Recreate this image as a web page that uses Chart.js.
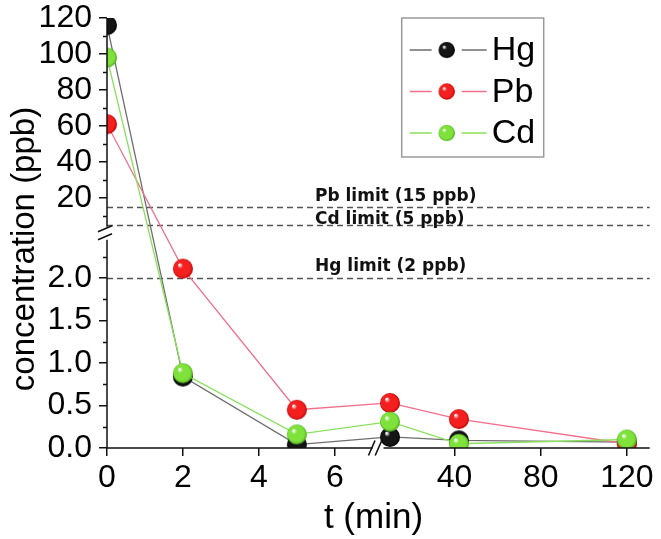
<!DOCTYPE html>
<html>
<head>
<meta charset="utf-8">
<script src="https://cdn.jsdelivr.net/npm/chart.js@4/dist/chart.umd.min.js"></script>
<style>
    html, body { margin: 0; padding: 0; background: #fff; }
</style>
</head>
<body>
<canvas id="chart" width="661" height="539"></canvas>
<script>

// =========================
// DATA
// =========================

const times = [0, 2, 5, 10, 42, 120];

const hgValues = [116, 0.84, 0.04, 0.13, 0.09, 0.07];
const pbValues = [61, 2.11, 0.45, 0.53, 0.34, 0.05];
const cdValues = [98, 0.88, 0.16, 0.31, 0.05, 0.10];

const seriesNames = ["Hg", "Pb", "Cd"];

const limitValues = [15, 5, 2];
const limitLabels = ["Pb limit (15 ppb)", "Cd limit (5 ppb)", "Hg limit (2 ppb)"];

const xTicks = [0, 2, 4, 6, 40, 80, 120];
const yTicks = [0, 0.5, 1, 1.5, 2, 20, 40, 60, 80, 100, 120];
const yMinorTicks = [0.25, 0.75, 1.25, 1.75, 2.25, 10, 30, 50, 70, 90, 110];

const yTitle = "concentration (ppb)";
const xTitle = "t (min)";

// =========================
// BROKEN AXES
// value -> fraction of axis length, two pieces each
// =========================

const breaks = {
    x: [[0, 0], [7, 0.4897], [7, 0.5095], [130.6, 1]],
    y: [[0, 0], [2.45, 0.4843], [4, 0.5144], [120, 1]]
};

function toDecimal(points, v) {
    for (let i = 1; i < points.length; i++) {
        const [v0, f0] = points[i - 1];
        const [v1, f1] = points[i];
        if (v <= v1 || i === points.length - 1) {
            if (v1 === v0) return f0;
            return f0 + (v - v0) / (v1 - v0) * (f1 - f0);
        }
    }
}

function fromDecimal(points, d) {
    for (let i = 1; i < points.length; i++) {
        const [v0, f0] = points[i - 1];
        const [v1, f1] = points[i];
        if (d <= f1 || i === points.length - 1) {
            if (f1 === f0) return v0;
            return v0 + (d - f0) / (f1 - f0) * (v1 - v0);
        }
    }
}

const LinearScale = Chart.registry.getScale("linear");

class BrokenScale extends LinearScale {
    buildTicks() {
        const list = this.axis === "x" ? xTicks : yTicks;
        return list.map(v => ({ value: v }));
    }
    getPixelForValue(value) {
        return this.getPixelForDecimal(toDecimal(breaks[this.axis], value));
    }
    getValueForPixel(pixel) {
        return fromDecimal(breaks[this.axis], this.getDecimalForPixel(pixel));
    }
}
BrokenScale.id = "broken";
BrokenScale.defaults = LinearScale.defaults;
Chart.register(BrokenScale);

// =========================
// SPHERE MARKERS
// =========================

function sphere(base, dark, r) {
    const size = Math.ceil(r * 2) + 2;
    const c = document.createElement("canvas");
    c.width = size;
    c.height = size;
    const g = c.getContext("2d");
    const m = size / 2;
    const grad = g.createRadialGradient(m - r * 0.35, m - r * 0.4, r * 0.05, m, m, r);
    grad.addColorStop(0, "#ffffff");
    grad.addColorStop(0.25, base);
    grad.addColorStop(0.8, base);
    grad.addColorStop(1, dark);
    g.fillStyle = grad;
    g.beginPath();
    g.arc(m, m, r, 0, Math.PI * 2);
    g.fill();
    return c;
}

const lineColors = ["#6e6e6e", "#f0708c", "#8ae05c"];
const markers = [
    sphere("#151515", "#000000", 10),
    sphere("#f42020", "#b80000", 10),
    sphere("#7ee23a", "#4aa81c", 10)
];

function points(values) {
    return times.map((t, i) => ({ x: t, y: values[i] }));
}

const seriesValues = [hgValues, pbValues, cdValues];

const datasets = seriesNames.map((name, i) => ({
    label: name,
    data: points(seriesValues[i]),
    borderColor: lineColors[i],
    borderWidth: 1.3,
    pointStyle: markers[i],
    pointRadius: 10,
    tension: 0,
    clip: 0,
    order: 3 - i
}));

// =========================
// EXTRA DRAWING
// =========================

const AXIS_FONT = "Liberation Sans, Arial, sans-serif";

const decorations = {
    id: "decorations",

    beforeDatasetsDraw(chart) {
        const { ctx, chartArea: a, scales: { y } } = chart;
        const labelLift = [6, 1.5, 7.5];

        ctx.save();
        ctx.strokeStyle = "#555";
        ctx.lineWidth = 1.3;
        ctx.setLineDash([6, 4]);
        limitValues.forEach(v => {
            const py = Math.round(y.getPixelForValue(v)) + 0.5;
            ctx.beginPath();
            ctx.moveTo(a.left, py);
            ctx.lineTo(a.right, py);
            ctx.stroke();
        });
        ctx.setLineDash([]);

        ctx.fillStyle = "#111";
        ctx.font = "bold 17px 'DejaVu Sans'";
        ctx.textBaseline = "alphabetic";
        ctx.textAlign = "left";
        limitValues.forEach((v, i) => {
            const py = y.getPixelForValue(v);
            ctx.fillText(limitLabels[i], a.left + 208, py - labelLift[i]);
        });
        ctx.restore();
    },

    // markers are cut off at the frame, as in the original
    beforeDatasetDraw(chart) {
        const { ctx, chartArea: a } = chart;
        ctx.save();
        ctx.beginPath();
        ctx.rect(a.left, a.top, a.right - a.left, a.bottom - a.top);
        ctx.clip();
    },

    afterDatasetDraw(chart) {
        chart.ctx.restore();
    },

    afterDraw(chart) {
        const { ctx, chartArea: a, scales: { x, y } } = chart;

        ctx.save();
        ctx.strokeStyle = "#111";
        ctx.lineWidth = 1.5;

        // axis lines in two pieces
        const yb = breaks.y;
        const xb = breaks.x;

        const yLowTop = y.getPixelForValue(yb[1][0]);
        const yUpBottom = y.getPixelForValue(yb[2][0] + 1e-9);
        const xLeftEnd = x.getPixelForValue(xb[1][0]);
        const xRightStart = x.getPixelForValue(xb[2][0] + 1e-9);

        ctx.beginPath();
        ctx.moveTo(a.left, a.bottom);
        ctx.lineTo(a.left, yLowTop);
        ctx.moveTo(a.left, yUpBottom);
        ctx.lineTo(a.left, a.top);

        ctx.moveTo(a.left, a.bottom);
        ctx.lineTo(xLeftEnd, a.bottom);
        ctx.moveTo(xRightStart, a.bottom);
        ctx.lineTo(a.right, a.bottom);
        ctx.stroke();

        // break marks
        ctx.lineWidth = 1.6;
        ctx.beginPath();
        [yUpBottom + 2, yLowTop - 3].forEach(cy => {
            ctx.moveTo(a.left - 9, cy + 3);
            ctx.lineTo(a.left + 5, cy - 3);
        });
        [xLeftEnd - 1, xRightStart - 5].forEach(cx => {
            ctx.moveTo(cx - 3.3, a.bottom + 7.5);
            ctx.lineTo(cx + 3.3, a.bottom - 7.5);
        });
        ctx.stroke();

        // minor ticks
        ctx.lineWidth = 1.5;
        ctx.beginPath();
        yMinorTicks.forEach(v => {
            const py = Math.round(y.getPixelForValue(v)) + 0.5;
            ctx.moveTo(a.left, py);
            ctx.lineTo(a.left - 4, py);
        });
        ctx.stroke();

        // y title, a little below the middle like the original
        ctx.fillStyle = "#000";
        ctx.font = "33px " + AXIS_FONT;
        ctx.textAlign = "center";
        ctx.textBaseline = "alphabetic";
        ctx.save();
        ctx.translate(34, (a.top + a.bottom) / 2 + 16);
        ctx.rotate(-Math.PI / 2);
        ctx.fillText(yTitle, 0, 0);
        ctx.restore();

        // legend
        const bx = a.right - 248;
        const by = a.top;
        const bw = 142;
        const bh = 139;
        ctx.strokeStyle = "#9a9a9a";
        ctx.lineWidth = 1.5;
        ctx.strokeRect(bx, by, bw, bh);

        ctx.font = "34px " + AXIS_FONT;
        ctx.textBaseline = "middle";
        ctx.textAlign = "left";

        chart.data.datasets.forEach((ds, i) => {
            const ry = by + 32 + i * 41.5;
            ctx.strokeStyle = ds.borderColor;
            ctx.lineWidth = 1.3;
            ctx.beginPath();
            ctx.moveTo(bx + 8, ry);
            ctx.lineTo(bx + 30, ry);
            ctx.moveTo(bx + 60, ry);
            ctx.lineTo(bx + 85, ry);
            ctx.stroke();
            ctx.drawImage(ds.pointStyle, bx + 45 - 9, ry - 9, 18, 18);
            ctx.fillText(ds.label, bx + 90, ry + 1);
        });

        ctx.restore();
    }
};

// =========================
// CHART
// =========================

new Chart(document.getElementById("chart").getContext("2d"), {
    type: "line",
    data: { datasets: datasets },
    options: {
        responsive: false,
        animation: false,
        layout: {
            padding: { left: 0, right: 5, top: 18, bottom: 0 }
        },
        plugins: {
            legend: { display: false },
            tooltip: { enabled: false }
        },
        scales: {
            x: {
                type: "broken",
                position: "bottom",
                min: 0,
                max: 130.6,
                border: { display: false },
                grid: {
                    drawOnChartArea: false,
                    drawTicks: true,
                    tickLength: 8,
                    color: "#111",
                    lineWidth: 1.5
                },
                ticks: {
                    autoSkip: false,
                    maxRotation: 0,
                    padding: 6,
                    color: "#000",
                    font: { family: AXIS_FONT, size: 32, lineHeight: 1 },
                    callback: v => String(v)
                },
                title: {
                    display: true,
                    text: xTitle + " ",
                    color: "#000",
                    font: { family: AXIS_FONT, size: 35, lineHeight: 1 },
                    padding: { top: 0, bottom: 3 }
                },
                afterFit: s => {
                    s.height = 91;
                    s.paddingLeft = 0;
                    s.paddingRight = 0;
                }
            },
            y: {
                type: "broken",
                position: "left",
                min: 0,
                max: 120,
                border: { display: false },
                grid: {
                    drawOnChartArea: false,
                    drawTicks: true,
                    tickLength: 8,
                    color: "#111",
                    lineWidth: 1.5
                },
                ticks: {
                    autoSkip: false,
                    padding: 7,
                    color: "#000",
                    font: { family: AXIS_FONT, size: 32, lineHeight: 1 },
                    callback: v => v < 3 ? v.toFixed(1) : String(v)
                },
                afterFit: s => {
                    s.width = 107;
                    s.paddingTop = 0;
                    s.paddingBottom = 0;
                }
            }
        }
    },
    plugins: [decorations]
});

</script>
</body>
</html>
